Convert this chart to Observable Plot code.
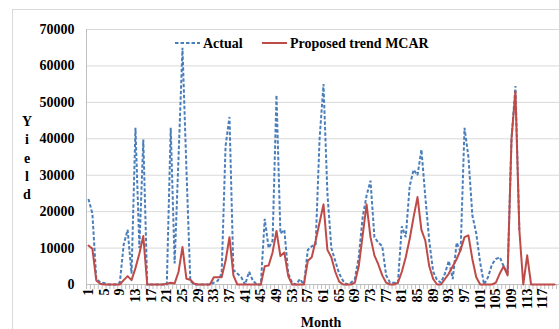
<!DOCTYPE html>
<html>
<head>
<meta charset="utf-8">
<script src="https://cdn.jsdelivr.net/npm/d3@7"></script>
<script src="https://cdn.jsdelivr.net/npm/@observablehq/plot@0.6"></script>
<style>
  html, body { margin: 0; padding: 0; background: #fff; }
  #chart { width: 559px; height: 329px; overflow: hidden; }
</style>
</head>
<body>
<div id="chart"></div>
<script>
// ---- Data ----
const seriesNames = ["Actual", "Proposed trend MCAR"];
const monthCount = 120;
const months = d3.range(1, monthCount + 1);
const labelMonths = d3.range(1, 118, 4);           // 1, 5, 9, ... 117
const yTicks = [0, 10000, 20000, 30000, 40000, 50000, 60000, 70000];

// Actual yield, months 1..111
const actual = [
  23500, 19500, 1500, 600, 400, 0, 0, 0, 500, 11000,
  15000, 3000, 43000, 10000, 39800, 0, 0, 0, 0, 0,
  0, 43000, 5800, 35000, 65000, 32000, 1000, 0, 0, 0,
  0, 0, 500, 1000, 3000, 38000, 46000, 4000, 3000, 2000,
  0, 3500, 1000, 0, 0, 18000, 10000, 12000, 52000, 14000,
  15000, 3000, 500, 0, 1500, 0, 9500, 10500, 11000, 40000,
  55000, 25000, 10000, 6500, 3000, 1000, 0, 500, 1500, 7500,
  18500, 24400, 28500, 13000, 11500, 10500, 2500, 500, 500, 500,
  16000, 13000, 27000, 31500, 30000, 37000, 24000, 12000, 3500, 1200,
  500, 3000, 6500, 1500, 11500, 9000, 43000, 35000, 19000, 14000,
  6000, 0, 2000, 5500, 7000, 7500, 5000, 3000, 40000, 54500,
  15000
];

// Proposed trend MCAR, months 1..120
const proposed = [
  10700, 9800, 1100, 200, 0, 0, 0, 0, 0, 1200,
  2300, 1200, 4500, 8500, 13300, 0, 0, 0, 0, 0,
  200, 500, 300, 3500, 10300, 1600, 1300, 200, 0, 0,
  0, 0, 2000, 2000, 2000, 6500, 13000, 2500, 0, 0,
  0, 0, 0, 0, 0, 5000, 5200, 8800, 14700, 7800,
  8800, 2300, 0, 0, 0, 0, 6500, 7500, 12000, 17000,
  22000, 9500, 7500, 3500, 800, 0, 0, 0, 500, 5000,
  13500, 22000, 13000, 8000, 5500, 2500, 500, 0, 0, 500,
  3500, 7500, 12500, 18500, 24000, 15000, 12000, 5000, 1500, 0,
  0, 1500, 3000, 5000, 7000, 9500, 13000, 13500, 7000, 2000,
  0, 0, 0, 0, 500, 3000, 5000, 2500, 40000, 53000,
  15000, 0, 8000, 0, 0, 0, 0, 0, 0, 0
];

// ---- Build tables ----
const actualData = actual.map((v, i) => ({month: months[i], value: v}));
const proposedData = proposed.map((v, i) => ({month: months[i], value: v}));
const xDomain = [0.5, 121.25];
const boundaries = d3.range(0.5, monthCount + 1, 1);

const FONT = "'Liberation Serif', 'Times New Roman', serif";
const BLUE = "#4a7ebb";
const RED = "#be4b48";
const GRID = "#d9d9d9";
const AXIS = "#bfbfbf";
const DASH = "3.5,2";

const plot = Plot.plot({
  width: 559,
  height: 329,
  marginLeft: 86,
  marginRight: 0,
  marginTop: 29,
  marginBottom: 45,
  style: {fontFamily: FONT, background: "#fff", color: "#000", overflow: "visible"},
  x: {domain: xDomain, axis: null, label: null},
  y: {domain: [0, 70000], axis: null, label: null},
  marks: [
    Plot.gridY(yTicks, {stroke: GRID, strokeOpacity: 1, strokeWidth: 1}),
    Plot.axisY(yTicks, {
      tickSize: 0, tickPadding: 12, label: null,
      tickFormat: d => String(d),
      fontSize: 14, fontWeight: "bold", fill: "#000"
    }),
    Plot.axisX(boundaries, {
      tickSize: 5, tickFormat: () => "", label: null, stroke: AXIS
    }),
    Plot.axisX(labelMonths, {
      tickSize: 0, tickPadding: 4, tickRotate: -90, label: null,
      tickFormat: d => String(d),
      fontSize: 14, fontWeight: "bold", fill: "#000"
    }),
    Plot.ruleY([0], {stroke: AXIS}),
    Plot.ruleX([xDomain[0]], {y1: yTicks[0], y2: yTicks[yTicks.length - 1], stroke: AXIS}),
    Plot.lineY(actualData, {
      x: "month", y: "value", stroke: BLUE, strokeWidth: 2,
      strokeDasharray: DASH, strokeLinecap: "butt", strokeLinejoin: "miter",
      strokeMiterlimit: 2, curve: "linear"
    }),
    Plot.lineY(proposedData, {
      x: "month", y: "value", stroke: RED, strokeWidth: 2, curve: "linear"
    })
  ]
});

document.getElementById("chart").appendChild(plot);

// ---- Decorations: chart border, axis titles, legend ----
const svg = d3.select(plot);

svg.insert("rect", ":first-child")
  .attr("x", 12.5).attr("y", 9.5)
  .attr("width", 700).attr("height", 500)
  .attr("fill", "none").attr("stroke", GRID);

const yLabel = "Yield".split("");
svg.append("g")
  .attr("font-family", FONT).attr("font-weight", "bold")
  .attr("font-size", 14).attr("text-anchor", "middle").attr("fill", "#000")
  .selectAll("text").data(yLabel).join("text")
  .attr("x", 27).attr("y", (d, i) => 126 + i * 18.3)
  .text(d => d);

svg.append("text")
  .attr("x", 321).attr("y", 327)
  .attr("font-family", FONT).attr("font-weight", "bold")
  .attr("font-size", 14).attr("text-anchor", "middle").attr("fill", "#000")
  .text("Month");

const legend = svg.append("g")
  .attr("font-family", FONT).attr("font-weight", "bold")
  .attr("font-size", 14).attr("fill", "#000").attr("text-anchor", "start");
legend.append("line")
  .attr("x1", 175).attr("x2", 200).attr("y1", 43).attr("y2", 43)
  .attr("stroke", BLUE).attr("stroke-width", 2).attr("stroke-dasharray", DASH);
legend.append("text").attr("x", 203).attr("y", 48).text(seriesNames[0]);
legend.append("line")
  .attr("x1", 262).attr("x2", 287).attr("y1", 43).attr("y2", 43)
  .attr("stroke", RED).attr("stroke-width", 2);
legend.append("text").attr("x", 290).attr("y", 48).text(seriesNames[1]);
</script>
</body>
</html>
